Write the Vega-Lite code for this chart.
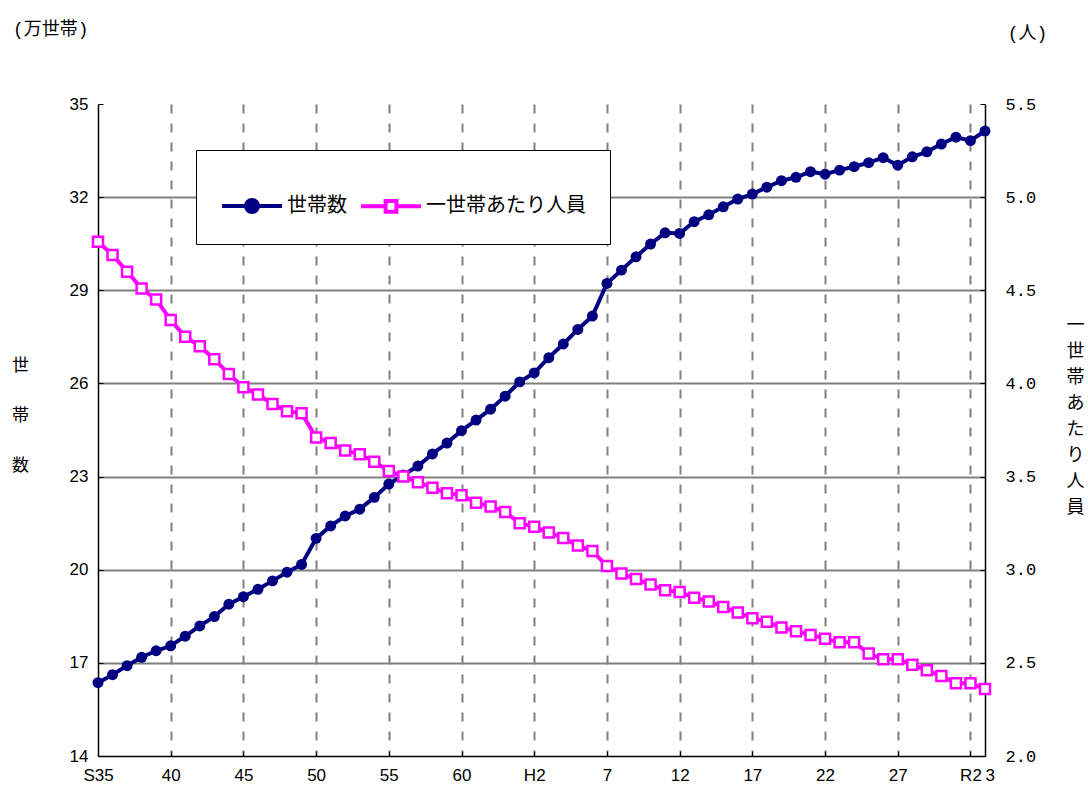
{
  "$schema": "https://vega.github.io/schema/vega-lite/v6.json",
  "width": 887,
  "height": 652,
  "autosize": "none",
  "padding": {"left": 98, "top": 104, "right": 103, "bottom": 33},
  "background": "white",
  "config": {
    "view": {"stroke": null},
    "font": "Noto Sans CJK JP",
    "axis": {"labelColor": "#000000", "titleColor": "#000000", "titleFontWeight": "normal", "domainColor": "#000000", "tickColor": "#000000"}
  },
  "title": {
    "text": "(万世帯)",
    "anchor": "start",
    "frame": "group",
    "dx": -85,
    "dy": 15,
    "offset": 0,
    "fontSize": 18,
    "fontWeight": "normal",
    "font": "Liberation Mono, Noto Sans CJK JP",
    "color": "#000000"
  },
  "data": {
    "values": [
      {"year": 1960, "households": 16.36, "size": 4.76},
      {"year": 1961, "households": 16.62, "size": 4.69},
      {"year": 1962, "households": 16.91, "size": 4.60},
      {"year": 1963, "households": 17.18, "size": 4.51},
      {"year": 1964, "households": 17.39, "size": 4.45},
      {"year": 1965, "households": 17.55, "size": 4.34},
      {"year": 1966, "households": 17.86, "size": 4.25},
      {"year": 1967, "households": 18.19, "size": 4.20},
      {"year": 1968, "households": 18.49, "size": 4.13},
      {"year": 1969, "households": 18.89, "size": 4.05},
      {"year": 1970, "households": 19.13, "size": 3.98},
      {"year": 1971, "households": 19.37, "size": 3.94},
      {"year": 1972, "households": 19.64, "size": 3.89},
      {"year": 1973, "households": 19.92, "size": 3.85},
      {"year": 1974, "households": 20.17, "size": 3.84},
      {"year": 1975, "households": 21.01, "size": 3.71},
      {"year": 1976, "households": 21.41, "size": 3.68},
      {"year": 1977, "households": 21.73, "size": 3.64},
      {"year": 1978, "households": 21.95, "size": 3.62},
      {"year": 1979, "households": 22.33, "size": 3.58},
      {"year": 1980, "households": 22.76, "size": 3.53},
      {"year": 1981, "households": 23.05, "size": 3.50},
      {"year": 1982, "households": 23.34, "size": 3.47},
      {"year": 1983, "households": 23.73, "size": 3.44},
      {"year": 1984, "households": 24.08, "size": 3.41},
      {"year": 1985, "households": 24.48, "size": 3.40},
      {"year": 1986, "households": 24.82, "size": 3.36},
      {"year": 1987, "households": 25.17, "size": 3.34},
      {"year": 1988, "households": 25.59, "size": 3.31},
      {"year": 1989, "households": 26.05, "size": 3.25},
      {"year": 1990, "households": 26.34, "size": 3.23},
      {"year": 1991, "households": 26.83, "size": 3.20},
      {"year": 1992, "households": 27.27, "size": 3.17},
      {"year": 1993, "households": 27.74, "size": 3.13},
      {"year": 1994, "households": 28.17, "size": 3.10},
      {"year": 1995, "households": 29.22, "size": 3.02},
      {"year": 1996, "households": 29.65, "size": 2.98},
      {"year": 1997, "households": 30.08, "size": 2.95},
      {"year": 1998, "households": 30.49, "size": 2.92},
      {"year": 1999, "households": 30.85, "size": 2.89},
      {"year": 2000, "households": 30.83, "size": 2.88},
      {"year": 2001, "households": 31.21, "size": 2.85},
      {"year": 2002, "households": 31.43, "size": 2.83},
      {"year": 2003, "households": 31.69, "size": 2.80},
      {"year": 2004, "households": 31.94, "size": 2.77},
      {"year": 2005, "households": 32.10, "size": 2.74},
      {"year": 2006, "households": 32.32, "size": 2.72},
      {"year": 2007, "households": 32.53, "size": 2.69},
      {"year": 2008, "households": 32.64, "size": 2.67},
      {"year": 2009, "households": 32.82, "size": 2.65},
      {"year": 2010, "households": 32.74, "size": 2.63},
      {"year": 2011, "households": 32.87, "size": 2.61},
      {"year": 2012, "households": 32.98, "size": 2.61},
      {"year": 2013, "households": 33.11, "size": 2.55},
      {"year": 2014, "households": 33.27, "size": 2.52},
      {"year": 2015, "households": 33.03, "size": 2.52},
      {"year": 2016, "households": 33.30, "size": 2.49},
      {"year": 2017, "households": 33.46, "size": 2.46},
      {"year": 2018, "households": 33.71, "size": 2.43},
      {"year": 2019, "households": 33.93, "size": 2.39},
      {"year": 2020, "households": 33.82, "size": 2.39},
      {"year": 2021, "households": 34.13, "size": 2.36}
    ]
  },
  "encoding": {
    "x": {
      "field": "year",
      "type": "quantitative",
      "scale": {"domain": [1960, 2021], "nice": false, "zero": false},
      "axis": {
        "values": [1960, 1965, 1970, 1975, 1980, 1985, 1990, 1995, 2000, 2005, 2010, 2015, 2020, 2021],
        "labelExpr": "{'1960':'S35','1965':'40','1970':'45','1975':'50','1980':'55','1985':'60','1990':'H2','1995':'7','2000':'12','2005':'17','2010':'22','2015':'27','2020':'R2','2021':'3'}[datum.value + '']",
        "labelAlign": {"condition": {"test": "datum.value == 2021", "value": "left"}, "value": "center"},
        "labelFontSize": 17,
        "labelFont": "Liberation Sans",
        "labelPadding": 16,
        "labelFlush": false,
        "labelOverlap": false,
        "domainWidth": 1.5,
        "ticks": true,
        "tickSize": -5,
        "tickColor": "#000000",
        "grid": true,
        "gridColor": "#808080",
        "gridWidth": 2,
        "gridDash": [9, 10],
        "gridOpacity": {"condition": {"test": "datum.value == 1960 || datum.value == 2021", "value": 0}, "value": 1},
        "title": "(人)",
        "titleFontSize": 18,
        "titleFont": "Liberation Mono, Noto Sans CJK JP",
        "titleAngle": 0,
        "titleAlign": "center",
        "titleBaseline": "middle",
        "titleX": 929,
        "titleY": -723
      }
    }
  },
  "layer": [
    {
      "encoding": {
        "y": {
          "field": "households",
          "type": "quantitative",
          "scale": {"domain": [14, 35], "nice": false, "zero": false},
          "axis": {
            "orient": "left",
            "values": [14, 17, 20, 23, 26, 29, 32, 35],
            "labelFontSize": 17,
            "labelFont": "Liberation Sans",
            "labelPadding": 15,
            "labelFlush": false,
            "domainWidth": 1.5,
            "tickSize": -5,
            "grid": true,
            "gridColor": "#808080",
            "gridWidth": 2,
            "gridOpacity": {"condition": {"test": "datum.value == 35 || datum.value == 14", "value": 0}, "value": 1},
            "title": ["世", "帯", "数"],
            "titleFontSize": 17,
            "titleFont": "Noto Sans CJK JP",
            "titleAngle": 0,
            "titleAlign": "center",
            "titleBaseline": "middle",
            "titleLineHeight": 50,
            "titleX": -78,
            "titleY": 261
          }
        }
      },
      "layer": [
        {
          "mark": {"type": "line", "color": "#000080", "strokeWidth": 4},
          "encoding": {
            "color": {
              "datum": "世帯数",
              "scale": {"domain": ["世帯数", "一世帯あたり人員"], "range": ["#000080", "#FF00FF"]},
              "legend": {
                "title": null,
                "orient": "none",
                "legendX": 98,
                "legendY": 46,
                "direction": "horizontal",
                "fillColor": "#ffffff",
                "strokeColor": "#000000",
                "padding": 24,
                "symbolSize": 3600,
                "symbolStrokeWidth": 4,
                "labelFontSize": 20,
                "labelFont": "Noto Sans CJK JP",
                "labelColor": "#000000",
                "labelOffset": 3,
                "columnPadding": 6,
                "encode": {
                  "symbols": {
                    "update": {
                      "shape": {"signal": "datum.value === '世帯数' ? 'M-1,0H1M0.2,0A0.2,0.2,0,1,1,-0.2,0A0.2,0.2,0,1,1,0.2,0Z' : 'M-1,0H-0.18M0.18,0H1M-0.18,-0.18H0.18V0.18H-0.18Z'"},
                      "fill": {"signal": "datum.value === '世帯数' ? '#000080' : '#ffffff'"},
                      "stroke": {"signal": "datum.value === '世帯数' ? '#000080' : '#FF00FF'"},
                      "strokeWidth": {"value": 4},
                      "fillOpacity": {"value": 1},
                      "strokeOpacity": {"value": 1},
                      "opacity": {"value": 1}
                    }
                  }
                }
              }
            }
          }
        },
        {
          "mark": {"type": "point", "shape": "circle", "filled": true, "color": "#000080", "size": 120, "opacity": 1}
        }
      ]
    },
    {
      "encoding": {
        "y": {
          "field": "size",
          "type": "quantitative",
          "scale": {"domain": [2, 5.5], "nice": false, "zero": false},
          "axis": {
            "orient": "right",
            "values": [2, 2.5, 3, 3.5, 4, 4.5, 5, 5.5],
            "format": ".1f",
            "labelFontSize": 17,
            "labelFont": "Liberation Mono",
            "labelPadding": 25,
            "labelFlush": false,
            "domainWidth": 1.5,
            "tickSize": -5,
            "grid": false,
            "title": ["一", "世", "帯", "あ", "た", "り", "人", "員"],
            "titleFontSize": 18,
            "titleFont": "Noto Sans CJK JP",
            "titleAngle": 0,
            "titleAlign": "center",
            "titleBaseline": "middle",
            "titleLineHeight": 26,
            "titleX": 90,
            "titleY": 221
          }
        }
      },
      "layer": [
        {
          "mark": {"type": "line", "color": "#FF00FF", "strokeWidth": 4},
          "encoding": {"color": {"datum": "一世帯あたり人員"}}
        },
        {
          "mark": {"type": "point", "shape": "square", "filled": true, "fill": "#ffffff", "stroke": "#FF00FF", "strokeWidth": 2.5, "size": 100, "opacity": 1}
        }
      ]
    }
  ],
  "resolve": {"scale": {"y": "independent"}}
}
